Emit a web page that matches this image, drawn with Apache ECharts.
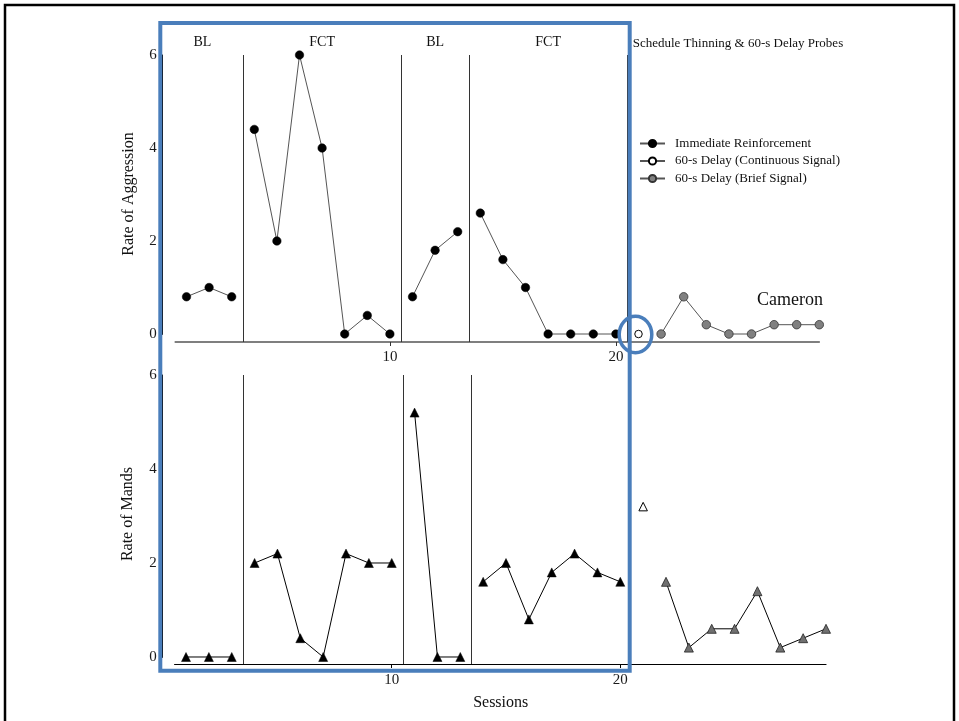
<!DOCTYPE html>
<html><head><meta charset="utf-8">
<script src="https://cdn.jsdelivr.net/npm/echarts@6/dist/echarts.min.js"></script>
<style>html,body{margin:0;padding:0;background:#fff}#c{width:959px;height:721px}</style>
</head><body><div id="c"></div>
<script>
const sessions = [1,2,3,4,5,6,7,8,9,10,11,12,13,14,15,16,17,18,19,20,21,22,23,24,25,26,27,28,29];
const aggression = [0.8,1.0,0.8, 4.4,2.0,6.0,4.0,0,0.4,0, 0.8,1.8,2.2, 2.6,1.6,1.0,0,0,0,0, 0, 0,0.8,0.2,0,0,0.2,0.2,0.2];
const mands = [0,0,0, 2.0,2.2,0.4,0,2.2,2.0,2.0, 5.2,0,0, 1.6,2.0,0.8,1.8,2.2,1.8,1.6, 3.2, 1.6,0.2,0.6,0.6,1.4,0.2,0.4,0.6];
const conditions = ['IR','IR','IR','IR','IR','IR','IR','IR','IR','IR','IR','IR','IR','IR','IR','IR','IR','IR','IR','IR','CS','BS','BS','BS','BS','BS','BS','BS','BS'];
const conditionNames = {IR:'Immediate Reinforcement', CS:'60-s Delay (Continuous Signal)', BS:'60-s Delay (Brief Signal)'};
const phaseBreaksTop = [3.5, 10.5, 13.5, 20.5];
const phaseBreaksBottom = [3.5, 10.5, 13.5];
const phaseLabels = ['BL','FCT','BL','FCT'];
const phaseLabelX = [1.7, 7, 12, 17];
const probeLabel = 'Schedule Thinning & 60-s Delay Probes';
const xTickValues = [10, 20];
const panelTitles = ['Rate of Aggression', 'Rate of Mands'];
const xTitle = 'Sessions';
const participant = 'Cameron';

const FONT = '"Liberation Serif", "Times New Roman", serif';

function segments(values, breaks) {
  const segs = [];
  let cur = null;
  for (let i = 0; i < sessions.length; i++) {
    const s = sessions[i], c = conditions[i];
    const brk = i > 0 && breaks.some(b => b > sessions[i-1] && b < s);
    if (!cur || cur.cond !== c || brk) { cur = {cond: c, data: []}; segs.push(cur); }
    cur.data.push([s, values[i]]);
  }
  return segs;
}

const styles = {
  top: {
    IR: {symbol:'circle', size:8.5, item:{color:'#000', borderColor:'#000', borderWidth:0.5}, line:'#555'},
    CS: {symbol:'circle', size:7.5, item:{color:'#fff', borderColor:'#000', borderWidth:1}, line:'#555'},
    BS: {symbol:'circle', size:8.5, item:{color:'#808080', borderColor:'#333', borderWidth:0.8}, line:'#555'}
  },
  bottom: {
    IR: {symbol:'triangle', size:9, item:{color:'#000', borderColor:'#000', borderWidth:0.5}, line:'#000'},
    CS: {symbol:'triangle', size:8.5, item:{color:'#fff', borderColor:'#000', borderWidth:1}, line:'#000'},
    BS: {symbol:'triangle', size:9, item:{color:'#707070', borderColor:'#222', borderWidth:0.8}, line:'#000'}
  }
};

const series = [];
function addPanel(values, breaks, panel, xIdx, yIdx) {
  const segs = segments(values, breaks);
  segs.forEach((sg, k) => {
    const st = styles[panel][sg.cond];
    const s = {
      type: 'line',
      name: panel === 'top' ? conditionNames[sg.cond] : panel + sg.cond,
      xAxisIndex: xIdx, yAxisIndex: yIdx,
      data: sg.data,
      symbol: st.symbol, symbolSize: st.size, showSymbol: true,
      itemStyle: st.item,
      lineStyle: {color: st.line, width: 1},
      z: 5, silent: true, animation: false
    };
    if (k === 0) {
      s.markLine = {
        silent: true, symbol: 'none', animation: false,
        label: {show: false},
        lineStyle: {color: '#333', width: 1, type: 'solid'},
        data: breaks.map(b => ({xAxis: b}))
      };
    }
    series.push(s);
  });
}
addPanel(aggression, phaseBreaksTop, 'top', 0, 0);
addPanel(mands, phaseBreaksBottom, 'bottom', 2, 2);

const axisLabelStyle = {fontFamily: FONT, fontSize: 15, color: '#1a1a1a'};

const option = {
  animation: false,
  backgroundColor: '#fff',
  grid: [
    {left: 175.2, top: 55, width: 644.1, height: 287},
    {left: 162.7, top: 55, width: 1, height: 279},
    {left: 174.6, top: 375, width: 651.4, height: 289},
    {left: 162.7, top: 375, width: 1, height: 282}
  ],
  xAxis: [
    {gridIndex: 0, type: 'value', min: 0.5, max: 29,
     axisLine: {onZero: false, lineStyle: {color: '#555', width: 1.5}},
     axisTick: {show: true, customValues: xTickValues, length: 4, lineStyle: {color: '#333'}},
     axisLabel: {customValues: xTickValues, margin: 8, ...axisLabelStyle},
     splitLine: {show: false}},
    {gridIndex: 1, type: 'value', min: 0, max: 1, show: false},
    {gridIndex: 2, type: 'value', min: 0.5, max: 29,
     axisLine: {onZero: false, lineStyle: {color: '#000', width: 1.2}},
     axisTick: {show: true, customValues: xTickValues, length: 4, lineStyle: {color: '#000'}},
     axisLabel: {customValues: xTickValues, margin: 9, ...axisLabelStyle},
     splitLine: {show: false}},
    {gridIndex: 3, type: 'value', min: 0, max: 1, show: false}
  ],
  yAxis: [
    {gridIndex: 0, type: 'value', min: -0.172, max: 6, show: false},
    {gridIndex: 1, type: 'value', min: 0, max: 6, interval: 2,
     axisLine: {show: true, lineStyle: {color: '#000', width: 1}},
     axisTick: {show: true, length: 3, lineStyle: {color: '#000'}},
     axisLabel: {margin: 6, ...axisLabelStyle},
     splitLine: {show: false}},
    {gridIndex: 2, type: 'value', min: -0.149, max: 6, show: false},
    {gridIndex: 3, type: 'value', min: 0, max: 6, interval: 2,
     axisLine: {show: true, lineStyle: {color: '#000', width: 1}},
     axisTick: {show: true, length: 3, lineStyle: {color: '#000'}},
     axisLabel: {margin: 6, ...axisLabelStyle},
     splitLine: {show: false}}
  ],
  legend: {
    data: Object.values(conditionNames),
    orient: 'vertical', left: 639, top: 137, padding: 0,
    itemWidth: 25, itemHeight: 9, itemGap: 4.5,
    selectedMode: false,
    textStyle: {fontFamily: FONT, fontSize: 13, color: '#111', padding: [0,0,0,5]}
  },
  series: series
};

const chart = echarts.init(document.getElementById('c'), null, {renderer: 'canvas'});
chart.setOption(option);

const px = (xIdx, yIdx, pt) => chart.convertToPixel({xAxisIndex: xIdx, yAxisIndex: yIdx}, pt);
const graphics = [];
graphics.push({type: 'rect', z: 100, shape: {x: 5, y: 5, width: 949, height: 740},
  style: {fill: 'none', stroke: '#000', lineWidth: 2.5}});
graphics.push({type: 'rect', z: 100, shape: {x: 160.3, y: 23, width: 469.4, height: 647.7},
  style: {fill: 'none', stroke: '#4A7EBB', lineWidth: 4}});
const openPt = px(0, 0, [21, aggression[20]]);
graphics.push({type: 'ellipse', z: 100, shape: {cx: openPt[0] - 3, cy: openPt[1] + 0.5, rx: 16.3, ry: 18.3},
  style: {fill: 'none', stroke: '#4A7EBB', lineWidth: 3.5}});
phaseLabels.forEach((t, i) => {
  const p = px(0, 0, [phaseLabelX[i], 6]);
  graphics.push({type: 'text', z: 50, x: p[0], y: 42,
    style: {text: t, font: '14px ' + FONT, fill: '#111', align: 'center', verticalAlign: 'middle'}});
});
const pProbe = px(0, 0, [20.5, 6]);
graphics.push({type: 'text', z: 50, x: pProbe[0] + 5.5, y: 44,
  style: {text: probeLabel, font: '13px ' + FONT, fill: '#111', align: 'left', verticalAlign: 'middle'}});
graphics.push({type: 'text', z: 50, x: 129, y: 194, rotation: Math.PI / 2,
  style: {text: panelTitles[0], font: '16px ' + FONT, fill: '#111', align: 'center', verticalAlign: 'middle'}});
graphics.push({type: 'text', z: 50, x: 128, y: 514, rotation: Math.PI / 2,
  style: {text: panelTitles[1], font: '16px ' + FONT, fill: '#111', align: 'center', verticalAlign: 'middle'}});
graphics.push({type: 'text', z: 50, x: 500.7, y: 703,
  style: {text: xTitle, font: '16px ' + FONT, fill: '#111', align: 'center', verticalAlign: 'middle'}});
graphics.push({type: 'text', z: 50, x: 790, y: 300,
  style: {text: participant, font: '18px ' + FONT, fill: '#111', align: 'center', verticalAlign: 'middle'}});
chart.setOption({graphic: graphics});
</script>
</body></html>
